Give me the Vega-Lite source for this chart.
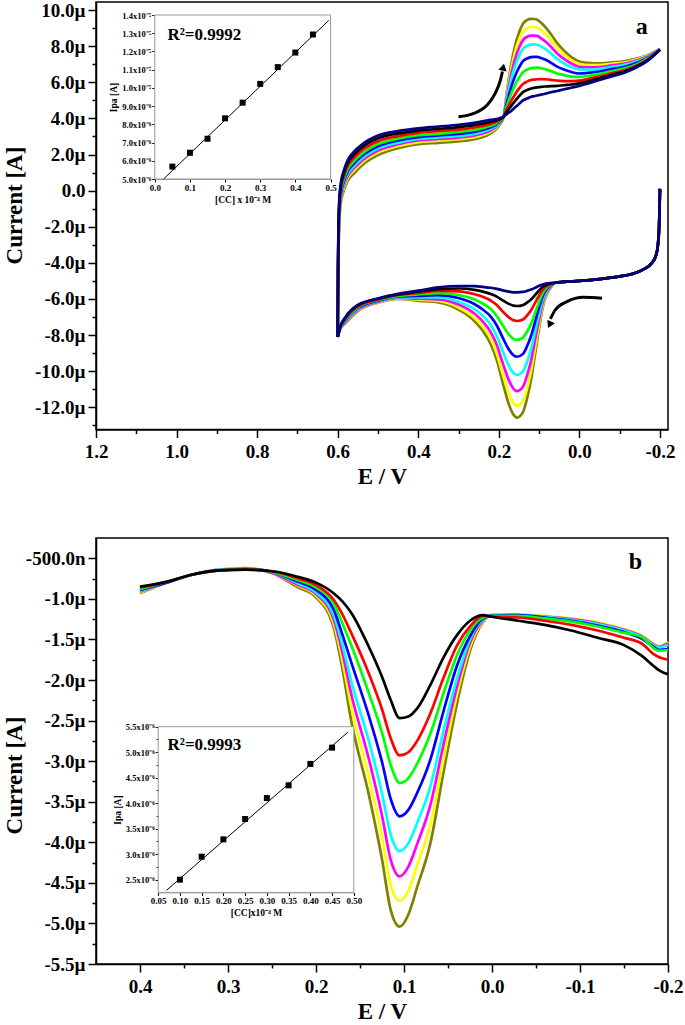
{
"$schema":"https://vega.github.io/schema/vega-lite/v6.json",
"background":"white",
"padding":{"left":2,"top":0,"right":0,"bottom":0},
"spacing":47,
"config":{
 "font":"Liberation Serif",
 "view":{"stroke":"black","strokeWidth":1.5},
 "axis":{"grid":false,"domainColor":"black","domainWidth":1.5,"tickColor":"black","tickWidth":1.5,"labelFont":"Liberation Serif","labelFontWeight":"bold","labelFontSize":19,"labelColor":"black","labelPadding":3,"labelOverlap":false,"labelFlush":false,"titleFont":"Liberation Serif","titleFontWeight":"bold","titleFontSize":23,"titleColor":"black","titlePadding":4,"zindex":1}
},
"datasets":{
"cvA":[
{"c":"o","b":"u","E":0.6,"I":-8.1},{"c":"o","b":"u","E":0.599,"I":-5.0},{"c":"o","b":"u","E":0.597,"I":-2.5},{"c":"o","b":"u","E":0.593,"I":-0.8},{"c":"o","b":"u","E":0.585,"I":0.0},{"c":"o","b":"u","E":0.575,"I":0.55},{"c":"o","b":"u","E":0.56,"I":0.95},{"c":"o","b":"u","E":0.54,"I":1.4},{"c":"o","b":"u","E":0.5,"I":1.97},{"c":"o","b":"u","E":0.45,"I":2.35},{"c":"o","b":"u","E":0.4,"I":2.58},{"c":"o","b":"u","E":0.35,"I":2.65},{"c":"o","b":"u","E":0.3,"I":2.73},{"c":"o","b":"u","E":0.25,"I":2.9},{"c":"o","b":"u","E":0.22,"I":3.17},{"c":"o","b":"u","E":0.2,"I":3.58},{"c":"o","b":"u","E":0.188,"I":4.1},{"c":"o","b":"u","E":0.18,"I":5.45},{"c":"o","b":"u","E":0.17,"I":6.9},{"c":"o","b":"u","E":0.16,"I":8.0},{"c":"o","b":"u","E":0.15,"I":8.75},{"c":"o","b":"u","E":0.14,"I":9.25},{"c":"o","b":"u","E":0.13,"I":9.45},{"c":"o","b":"u","E":0.12,"I":9.52},{"c":"o","b":"u","E":0.113,"I":9.51},{"c":"o","b":"u","E":0.105,"I":9.47},{"c":"o","b":"u","E":0.095,"I":9.3},{"c":"o","b":"u","E":0.085,"I":9.07},{"c":"o","b":"u","E":0.07,"I":8.65},{"c":"o","b":"u","E":0.055,"I":8.17},{"c":"o","b":"u","E":0.04,"I":7.8},{"c":"o","b":"u","E":0.02,"I":7.4},{"c":"o","b":"u","E":0,"I":7.15},{"c":"o","b":"u","E":-0.02,"I":7.08},{"c":"o","b":"u","E":-0.05,"I":7.05},{"c":"o","b":"u","E":-0.08,"I":7.11},{"c":"o","b":"u","E":-0.11,"I":7.17},{"c":"o","b":"u","E":-0.14,"I":7.3},{"c":"o","b":"u","E":-0.17,"I":7.52},{"c":"o","b":"u","E":-0.2,"I":7.85},
{"c":"o","b":"d","E":-0.2,"I":0.1},{"c":"o","b":"d","E":-0.198,"I":-2.0},{"c":"o","b":"d","E":-0.195,"I":-3.0},{"c":"o","b":"d","E":-0.19,"I":-3.6},{"c":"o","b":"d","E":-0.18,"I":-4.0},{"c":"o","b":"d","E":-0.16,"I":-4.35},{"c":"o","b":"d","E":-0.13,"I":-4.62},{"c":"o","b":"d","E":-0.1,"I":-4.75},{"c":"o","b":"d","E":-0.05,"I":-4.9},{"c":"o","b":"d","E":0,"I":-5.0},{"c":"o","b":"d","E":0.04,"I":-5.05},{"c":"o","b":"d","E":0.06,"I":-5.1},{"c":"o","b":"d","E":0.072,"I":-5.4},{"c":"o","b":"d","E":0.08,"I":-5.7},{"c":"o","b":"d","E":0.09,"I":-6.37},{"c":"o","b":"d","E":0.1,"I":-7.63},{"c":"o","b":"d","E":0.11,"I":-9.05},{"c":"o","b":"d","E":0.12,"I":-10.48},{"c":"o","b":"d","E":0.13,"I":-11.52},{"c":"o","b":"d","E":0.14,"I":-12.27},{"c":"o","b":"d","E":0.155,"I":-12.57},{"c":"o","b":"d","E":0.165,"I":-12.36},{"c":"o","b":"d","E":0.175,"I":-11.84},{"c":"o","b":"d","E":0.19,"I":-10.66},{"c":"o","b":"d","E":0.205,"I":-9.39},{"c":"o","b":"d","E":0.22,"I":-8.5},{"c":"o","b":"d","E":0.24,"I":-7.75},{"c":"o","b":"d","E":0.26,"I":-7.23},{"c":"o","b":"d","E":0.3,"I":-6.59},{"c":"o","b":"d","E":0.35,"I":-6.19},{"c":"o","b":"d","E":0.4,"I":-6.1},{"c":"o","b":"d","E":0.45,"I":-6.0},{"c":"o","b":"d","E":0.5,"I":-6.21},{"c":"o","b":"d","E":0.55,"I":-6.67},{"c":"o","b":"d","E":0.58,"I":-7.32},{"c":"o","b":"d","E":0.595,"I":-7.75},{"c":"o","b":"d","E":0.6,"I":-8.1},
{"c":"y","b":"u","E":0.6,"I":-8.1},{"c":"y","b":"u","E":0.599,"I":-4.87},{"c":"y","b":"u","E":0.597,"I":-2.31},{"c":"y","b":"u","E":0.593,"I":-0.66},{"c":"y","b":"u","E":0.585,"I":0.14},{"c":"y","b":"u","E":0.575,"I":0.7},{"c":"y","b":"u","E":0.56,"I":1.11},{"c":"y","b":"u","E":0.54,"I":1.55},{"c":"y","b":"u","E":0.5,"I":2.11},{"c":"y","b":"u","E":0.45,"I":2.47},{"c":"y","b":"u","E":0.4,"I":2.69},{"c":"y","b":"u","E":0.35,"I":2.77},{"c":"y","b":"u","E":0.3,"I":2.85},{"c":"y","b":"u","E":0.25,"I":3.02},{"c":"y","b":"u","E":0.22,"I":3.27},{"c":"y","b":"u","E":0.2,"I":3.64},{"c":"y","b":"u","E":0.188,"I":4.1},{"c":"y","b":"u","E":0.18,"I":5.33},{"c":"y","b":"u","E":0.17,"I":6.64},{"c":"y","b":"u","E":0.16,"I":7.65},{"c":"y","b":"u","E":0.15,"I":8.34},{"c":"y","b":"u","E":0.14,"I":8.81},{"c":"y","b":"u","E":0.13,"I":9.0},{"c":"y","b":"u","E":0.12,"I":9.08},{"c":"y","b":"u","E":0.113,"I":9.07},{"c":"y","b":"u","E":0.105,"I":9.04},{"c":"y","b":"u","E":0.095,"I":8.89},{"c":"y","b":"u","E":0.085,"I":8.69},{"c":"y","b":"u","E":0.07,"I":8.32},{"c":"y","b":"u","E":0.055,"I":7.9},{"c":"y","b":"u","E":0.04,"I":7.57},{"c":"y","b":"u","E":0.02,"I":7.23},{"c":"y","b":"u","E":0,"I":7.01},{"c":"y","b":"u","E":-0.02,"I":6.96},{"c":"y","b":"u","E":-0.05,"I":6.96},{"c":"y","b":"u","E":-0.08,"I":7.03},{"c":"y","b":"u","E":-0.11,"I":7.1},{"c":"y","b":"u","E":-0.14,"I":7.25},{"c":"y","b":"u","E":-0.17,"I":7.49},{"c":"y","b":"u","E":-0.2,"I":7.85},
{"c":"y","b":"d","E":-0.2,"I":0.1},{"c":"y","b":"d","E":-0.198,"I":-2.0},{"c":"y","b":"d","E":-0.195,"I":-3.0},{"c":"y","b":"d","E":-0.19,"I":-3.6},{"c":"y","b":"d","E":-0.18,"I":-4.0},{"c":"y","b":"d","E":-0.16,"I":-4.35},{"c":"y","b":"d","E":-0.13,"I":-4.62},{"c":"y","b":"d","E":-0.1,"I":-4.75},{"c":"y","b":"d","E":-0.05,"I":-4.9},{"c":"y","b":"d","E":0,"I":-5.0},{"c":"y","b":"d","E":0.04,"I":-5.05},{"c":"y","b":"d","E":0.06,"I":-5.1},{"c":"y","b":"d","E":0.072,"I":-5.37},{"c":"y","b":"d","E":0.08,"I":-5.64},{"c":"y","b":"d","E":0.09,"I":-6.25},{"c":"y","b":"d","E":0.1,"I":-7.41},{"c":"y","b":"d","E":0.11,"I":-8.7},{"c":"y","b":"d","E":0.12,"I":-10.0},{"c":"y","b":"d","E":0.13,"I":-10.95},{"c":"y","b":"d","E":0.14,"I":-11.64},{"c":"y","b":"d","E":0.155,"I":-11.91},{"c":"y","b":"d","E":0.165,"I":-11.72},{"c":"y","b":"d","E":0.175,"I":-11.24},{"c":"y","b":"d","E":0.19,"I":-10.17},{"c":"y","b":"d","E":0.205,"I":-9.02},{"c":"y","b":"d","E":0.22,"I":-8.2},{"c":"y","b":"d","E":0.24,"I":-7.52},{"c":"y","b":"d","E":0.26,"I":-7.05},{"c":"y","b":"d","E":0.3,"I":-6.47},{"c":"y","b":"d","E":0.35,"I":-6.11},{"c":"y","b":"d","E":0.4,"I":-6.04},{"c":"y","b":"d","E":0.45,"I":-5.97},{"c":"y","b":"d","E":0.5,"I":-6.19},{"c":"y","b":"d","E":0.55,"I":-6.64},{"c":"y","b":"d","E":0.58,"I":-7.29},{"c":"y","b":"d","E":0.595,"I":-7.74},{"c":"y","b":"d","E":0.6,"I":-8.1},
{"c":"m","b":"u","E":0.6,"I":-8.1},{"c":"m","b":"u","E":0.599,"I":-4.77},{"c":"m","b":"u","E":0.597,"I":-2.16},{"c":"m","b":"u","E":0.593,"I":-0.55},{"c":"m","b":"u","E":0.585,"I":0.25},{"c":"m","b":"u","E":0.575,"I":0.81},{"c":"m","b":"u","E":0.56,"I":1.23},{"c":"m","b":"u","E":0.54,"I":1.66},{"c":"m","b":"u","E":0.5,"I":2.22},{"c":"m","b":"u","E":0.45,"I":2.57},{"c":"m","b":"u","E":0.4,"I":2.78},{"c":"m","b":"u","E":0.35,"I":2.86},{"c":"m","b":"u","E":0.3,"I":2.94},{"c":"m","b":"u","E":0.25,"I":3.11},{"c":"m","b":"u","E":0.22,"I":3.34},{"c":"m","b":"u","E":0.2,"I":3.68},{"c":"m","b":"u","E":0.188,"I":4.1},{"c":"m","b":"u","E":0.18,"I":5.19},{"c":"m","b":"u","E":0.17,"I":6.36},{"c":"m","b":"u","E":0.16,"I":7.27},{"c":"m","b":"u","E":0.15,"I":7.9},{"c":"m","b":"u","E":0.14,"I":8.34},{"c":"m","b":"u","E":0.13,"I":8.52},{"c":"m","b":"u","E":0.12,"I":8.59},{"c":"m","b":"u","E":0.113,"I":8.59},{"c":"m","b":"u","E":0.105,"I":8.57},{"c":"m","b":"u","E":0.095,"I":8.44},{"c":"m","b":"u","E":0.085,"I":8.28},{"c":"m","b":"u","E":0.07,"I":7.96},{"c":"m","b":"u","E":0.055,"I":7.6},{"c":"m","b":"u","E":0.04,"I":7.33},{"c":"m","b":"u","E":0.02,"I":7.04},{"c":"m","b":"u","E":0,"I":6.86},{"c":"m","b":"u","E":-0.02,"I":6.83},{"c":"m","b":"u","E":-0.05,"I":6.85},{"c":"m","b":"u","E":-0.08,"I":6.94},{"c":"m","b":"u","E":-0.11,"I":7.03},{"c":"m","b":"u","E":-0.14,"I":7.19},{"c":"m","b":"u","E":-0.17,"I":7.45},{"c":"m","b":"u","E":-0.2,"I":7.84},
{"c":"m","b":"d","E":-0.2,"I":0.1},{"c":"m","b":"d","E":-0.198,"I":-2.0},{"c":"m","b":"d","E":-0.195,"I":-3.0},{"c":"m","b":"d","E":-0.19,"I":-3.6},{"c":"m","b":"d","E":-0.18,"I":-4.0},{"c":"m","b":"d","E":-0.16,"I":-4.35},{"c":"m","b":"d","E":-0.13,"I":-4.62},{"c":"m","b":"d","E":-0.1,"I":-4.75},{"c":"m","b":"d","E":-0.05,"I":-4.9},{"c":"m","b":"d","E":0,"I":-5.0},{"c":"m","b":"d","E":0.04,"I":-5.05},{"c":"m","b":"d","E":0.06,"I":-5.1},{"c":"m","b":"d","E":0.072,"I":-5.34},{"c":"m","b":"d","E":0.08,"I":-5.58},{"c":"m","b":"d","E":0.09,"I":-6.12},{"c":"m","b":"d","E":0.1,"I":-7.13},{"c":"m","b":"d","E":0.11,"I":-8.27},{"c":"m","b":"d","E":0.12,"I":-9.42},{"c":"m","b":"d","E":0.13,"I":-10.25},{"c":"m","b":"d","E":0.14,"I":-10.86},{"c":"m","b":"d","E":0.155,"I":-11.1},{"c":"m","b":"d","E":0.165,"I":-10.93},{"c":"m","b":"d","E":0.175,"I":-10.51},{"c":"m","b":"d","E":0.19,"I":-9.57},{"c":"m","b":"d","E":0.205,"I":-8.55},{"c":"m","b":"d","E":0.22,"I":-7.84},{"c":"m","b":"d","E":0.24,"I":-7.24},{"c":"m","b":"d","E":0.26,"I":-6.82},{"c":"m","b":"d","E":0.3,"I":-6.31},{"c":"m","b":"d","E":0.35,"I":-6.02},{"c":"m","b":"d","E":0.4,"I":-5.98},{"c":"m","b":"d","E":0.45,"I":-5.94},{"c":"m","b":"d","E":0.5,"I":-6.16},{"c":"m","b":"d","E":0.55,"I":-6.6},{"c":"m","b":"d","E":0.58,"I":-7.25},{"c":"m","b":"d","E":0.595,"I":-7.72},{"c":"m","b":"d","E":0.6,"I":-8.1},
{"c":"c","b":"u","E":0.6,"I":-8.1},{"c":"c","b":"u","E":0.599,"I":-4.67},{"c":"c","b":"u","E":0.597,"I":-2.0},{"c":"c","b":"u","E":0.593,"I":-0.44},{"c":"c","b":"u","E":0.585,"I":0.36},{"c":"c","b":"u","E":0.575,"I":0.93},{"c":"c","b":"u","E":0.56,"I":1.35},{"c":"c","b":"u","E":0.54,"I":1.78},{"c":"c","b":"u","E":0.5,"I":2.33},{"c":"c","b":"u","E":0.45,"I":2.66},{"c":"c","b":"u","E":0.4,"I":2.87},{"c":"c","b":"u","E":0.35,"I":2.95},{"c":"c","b":"u","E":0.3,"I":3.03},{"c":"c","b":"u","E":0.25,"I":3.2},{"c":"c","b":"u","E":0.22,"I":3.42},{"c":"c","b":"u","E":0.2,"I":3.72},{"c":"c","b":"u","E":0.188,"I":4.1},{"c":"c","b":"u","E":0.18,"I":5.05},{"c":"c","b":"u","E":0.17,"I":6.08},{"c":"c","b":"u","E":0.16,"I":6.88},{"c":"c","b":"u","E":0.15,"I":7.45},{"c":"c","b":"u","E":0.14,"I":7.85},{"c":"c","b":"u","E":0.13,"I":8.02},{"c":"c","b":"u","E":0.12,"I":8.09},{"c":"c","b":"u","E":0.113,"I":8.1},{"c":"c","b":"u","E":0.105,"I":8.08},{"c":"c","b":"u","E":0.095,"I":7.99},{"c":"c","b":"u","E":0.085,"I":7.85},{"c":"c","b":"u","E":0.07,"I":7.59},{"c":"c","b":"u","E":0.055,"I":7.3},{"c":"c","b":"u","E":0.04,"I":7.07},{"c":"c","b":"u","E":0.02,"I":6.84},{"c":"c","b":"u","E":0,"I":6.71},{"c":"c","b":"u","E":-0.02,"I":6.7},{"c":"c","b":"u","E":-0.05,"I":6.75},{"c":"c","b":"u","E":-0.08,"I":6.85},{"c":"c","b":"u","E":-0.11,"I":6.96},{"c":"c","b":"u","E":-0.14,"I":7.14},{"c":"c","b":"u","E":-0.17,"I":7.41},{"c":"c","b":"u","E":-0.2,"I":7.83},
{"c":"c","b":"d","E":-0.2,"I":0.1},{"c":"c","b":"d","E":-0.198,"I":-2.0},{"c":"c","b":"d","E":-0.195,"I":-3.0},{"c":"c","b":"d","E":-0.19,"I":-3.6},{"c":"c","b":"d","E":-0.18,"I":-4.0},{"c":"c","b":"d","E":-0.16,"I":-4.35},{"c":"c","b":"d","E":-0.13,"I":-4.62},{"c":"c","b":"d","E":-0.1,"I":-4.75},{"c":"c","b":"d","E":-0.05,"I":-4.9},{"c":"c","b":"d","E":0,"I":-5.0},{"c":"c","b":"d","E":0.04,"I":-5.05},{"c":"c","b":"d","E":0.06,"I":-5.1},{"c":"c","b":"d","E":0.072,"I":-5.3},{"c":"c","b":"d","E":0.08,"I":-5.51},{"c":"c","b":"d","E":0.09,"I":-5.96},{"c":"c","b":"d","E":0.1,"I":-6.83},{"c":"c","b":"d","E":0.11,"I":-7.8},{"c":"c","b":"d","E":0.12,"I":-8.78},{"c":"c","b":"d","E":0.13,"I":-9.49},{"c":"c","b":"d","E":0.14,"I":-10.01},{"c":"c","b":"d","E":0.155,"I":-10.21},{"c":"c","b":"d","E":0.165,"I":-10.07},{"c":"c","b":"d","E":0.175,"I":-9.71},{"c":"c","b":"d","E":0.19,"I":-8.91},{"c":"c","b":"d","E":0.205,"I":-8.05},{"c":"c","b":"d","E":0.22,"I":-7.44},{"c":"c","b":"d","E":0.24,"I":-6.93},{"c":"c","b":"d","E":0.26,"I":-6.57},{"c":"c","b":"d","E":0.3,"I":-6.15},{"c":"c","b":"d","E":0.35,"I":-5.91},{"c":"c","b":"d","E":0.4,"I":-5.91},{"c":"c","b":"d","E":0.45,"I":-5.9},{"c":"c","b":"d","E":0.5,"I":-6.13},{"c":"c","b":"d","E":0.55,"I":-6.55},{"c":"c","b":"d","E":0.58,"I":-7.2},{"c":"c","b":"d","E":0.595,"I":-7.7},{"c":"c","b":"d","E":0.6,"I":-8.1},
{"c":"b","b":"u","E":0.6,"I":-8.1},{"c":"b","b":"u","E":0.599,"I":-4.55},{"c":"b","b":"u","E":0.597,"I":-1.83},{"c":"b","b":"u","E":0.593,"I":-0.31},{"c":"b","b":"u","E":0.585,"I":0.5},{"c":"b","b":"u","E":0.575,"I":1.07},{"c":"b","b":"u","E":0.56,"I":1.49},{"c":"b","b":"u","E":0.54,"I":1.92},{"c":"b","b":"u","E":0.5,"I":2.46},{"c":"b","b":"u","E":0.45,"I":2.78},{"c":"b","b":"u","E":0.4,"I":2.97},{"c":"b","b":"u","E":0.35,"I":3.06},{"c":"b","b":"u","E":0.3,"I":3.14},{"c":"b","b":"u","E":0.25,"I":3.31},{"c":"b","b":"u","E":0.22,"I":3.51},{"c":"b","b":"u","E":0.2,"I":3.77},{"c":"b","b":"u","E":0.188,"I":4.1},{"c":"b","b":"u","E":0.18,"I":4.86},{"c":"b","b":"u","E":0.17,"I":5.68},{"c":"b","b":"u","E":0.16,"I":6.33},{"c":"b","b":"u","E":0.15,"I":6.82},{"c":"b","b":"u","E":0.14,"I":7.17},{"c":"b","b":"u","E":0.13,"I":7.32},{"c":"b","b":"u","E":0.12,"I":7.4},{"c":"b","b":"u","E":0.113,"I":7.41},{"c":"b","b":"u","E":0.105,"I":7.41},{"c":"b","b":"u","E":0.095,"I":7.35},{"c":"b","b":"u","E":0.085,"I":7.26},{"c":"b","b":"u","E":0.07,"I":7.08},{"c":"b","b":"u","E":0.055,"I":6.87},{"c":"b","b":"u","E":0.04,"I":6.72},{"c":"b","b":"u","E":0.02,"I":6.57},{"c":"b","b":"u","E":0,"I":6.49},{"c":"b","b":"u","E":-0.02,"I":6.52},{"c":"b","b":"u","E":-0.05,"I":6.6},{"c":"b","b":"u","E":-0.08,"I":6.73},{"c":"b","b":"u","E":-0.11,"I":6.85},{"c":"b","b":"u","E":-0.14,"I":7.06},{"c":"b","b":"u","E":-0.17,"I":7.36},{"c":"b","b":"u","E":-0.2,"I":7.83},
{"c":"b","b":"d","E":-0.2,"I":0.1},{"c":"b","b":"d","E":-0.198,"I":-2.0},{"c":"b","b":"d","E":-0.195,"I":-3.0},{"c":"b","b":"d","E":-0.19,"I":-3.6},{"c":"b","b":"d","E":-0.18,"I":-4.0},{"c":"b","b":"d","E":-0.16,"I":-4.35},{"c":"b","b":"d","E":-0.13,"I":-4.62},{"c":"b","b":"d","E":-0.1,"I":-4.75},{"c":"b","b":"d","E":-0.05,"I":-4.9},{"c":"b","b":"d","E":0,"I":-5.0},{"c":"b","b":"d","E":0.04,"I":-5.05},{"c":"b","b":"d","E":0.06,"I":-5.1},{"c":"b","b":"d","E":0.072,"I":-5.26},{"c":"b","b":"d","E":0.08,"I":-5.43},{"c":"b","b":"d","E":0.09,"I":-5.79},{"c":"b","b":"d","E":0.1,"I":-6.48},{"c":"b","b":"d","E":0.11,"I":-7.27},{"c":"b","b":"d","E":0.12,"I":-8.05},{"c":"b","b":"d","E":0.13,"I":-8.62},{"c":"b","b":"d","E":0.14,"I":-9.04},{"c":"b","b":"d","E":0.155,"I":-9.2},{"c":"b","b":"d","E":0.165,"I":-9.09},{"c":"b","b":"d","E":0.175,"I":-8.8},{"c":"b","b":"d","E":0.19,"I":-8.16},{"c":"b","b":"d","E":0.205,"I":-7.47},{"c":"b","b":"d","E":0.22,"I":-6.98},{"c":"b","b":"d","E":0.24,"I":-6.58},{"c":"b","b":"d","E":0.26,"I":-6.29},{"c":"b","b":"d","E":0.3,"I":-5.95},{"c":"b","b":"d","E":0.35,"I":-5.79},{"c":"b","b":"d","E":0.4,"I":-5.83},{"c":"b","b":"d","E":0.45,"I":-5.86},{"c":"b","b":"d","E":0.5,"I":-6.09},{"c":"b","b":"d","E":0.55,"I":-6.5},{"c":"b","b":"d","E":0.58,"I":-7.15},{"c":"b","b":"d","E":0.595,"I":-7.68},{"c":"b","b":"d","E":0.6,"I":-8.1},
{"c":"g","b":"u","E":0.6,"I":-8.1},{"c":"g","b":"u","E":0.599,"I":-4.44},{"c":"g","b":"u","E":0.597,"I":-1.66},{"c":"g","b":"u","E":0.593,"I":-0.18},{"c":"g","b":"u","E":0.585,"I":0.62},{"c":"g","b":"u","E":0.575,"I":1.19},{"c":"g","b":"u","E":0.56,"I":1.62},{"c":"g","b":"u","E":0.54,"I":2.04},{"c":"g","b":"u","E":0.5,"I":2.58},{"c":"g","b":"u","E":0.45,"I":2.88},{"c":"g","b":"u","E":0.4,"I":3.07},{"c":"g","b":"u","E":0.35,"I":3.15},{"c":"g","b":"u","E":0.3,"I":3.25},{"c":"g","b":"u","E":0.25,"I":3.4},{"c":"g","b":"u","E":0.22,"I":3.59},{"c":"g","b":"u","E":0.2,"I":3.82},{"c":"g","b":"u","E":0.188,"I":4.1},{"c":"g","b":"u","E":0.18,"I":4.69},{"c":"g","b":"u","E":0.17,"I":5.32},{"c":"g","b":"u","E":0.16,"I":5.85},{"c":"g","b":"u","E":0.15,"I":6.25},{"c":"g","b":"u","E":0.14,"I":6.56},{"c":"g","b":"u","E":0.13,"I":6.7},{"c":"g","b":"u","E":0.12,"I":6.79},{"c":"g","b":"u","E":0.113,"I":6.8},{"c":"g","b":"u","E":0.105,"I":6.81},{"c":"g","b":"u","E":0.095,"I":6.78},{"c":"g","b":"u","E":0.085,"I":6.73},{"c":"g","b":"u","E":0.07,"I":6.62},{"c":"g","b":"u","E":0.055,"I":6.49},{"c":"g","b":"u","E":0.04,"I":6.41},{"c":"g","b":"u","E":0.02,"I":6.32},{"c":"g","b":"u","E":0,"I":6.3},{"c":"g","b":"u","E":-0.02,"I":6.35},{"c":"g","b":"u","E":-0.05,"I":6.47},{"c":"g","b":"u","E":-0.08,"I":6.62},{"c":"g","b":"u","E":-0.11,"I":6.76},{"c":"g","b":"u","E":-0.14,"I":6.98},{"c":"g","b":"u","E":-0.17,"I":7.32},{"c":"g","b":"u","E":-0.2,"I":7.82},
{"c":"g","b":"d","E":-0.2,"I":0.1},{"c":"g","b":"d","E":-0.198,"I":-2.0},{"c":"g","b":"d","E":-0.195,"I":-3.0},{"c":"g","b":"d","E":-0.19,"I":-3.6},{"c":"g","b":"d","E":-0.18,"I":-4.0},{"c":"g","b":"d","E":-0.16,"I":-4.35},{"c":"g","b":"d","E":-0.13,"I":-4.62},{"c":"g","b":"d","E":-0.1,"I":-4.75},{"c":"g","b":"d","E":-0.05,"I":-4.9},{"c":"g","b":"d","E":0,"I":-5.0},{"c":"g","b":"d","E":0.04,"I":-5.05},{"c":"g","b":"d","E":0.06,"I":-5.1},{"c":"g","b":"d","E":0.072,"I":-5.23},{"c":"g","b":"d","E":0.08,"I":-5.35},{"c":"g","b":"d","E":0.09,"I":-5.63},{"c":"g","b":"d","E":0.1,"I":-6.17},{"c":"g","b":"d","E":0.11,"I":-6.77},{"c":"g","b":"d","E":0.12,"I":-7.38},{"c":"g","b":"d","E":0.13,"I":-7.82},{"c":"g","b":"d","E":0.14,"I":-8.14},{"c":"g","b":"d","E":0.155,"I":-8.27},{"c":"g","b":"d","E":0.165,"I":-8.19},{"c":"g","b":"d","E":0.175,"I":-7.97},{"c":"g","b":"d","E":0.19,"I":-7.47},{"c":"g","b":"d","E":0.205,"I":-6.94},{"c":"g","b":"d","E":0.22,"I":-6.56},{"c":"g","b":"d","E":0.24,"I":-6.25},{"c":"g","b":"d","E":0.26,"I":-6.03},{"c":"g","b":"d","E":0.3,"I":-5.78},{"c":"g","b":"d","E":0.35,"I":-5.68},{"c":"g","b":"d","E":0.4,"I":-5.75},{"c":"g","b":"d","E":0.45,"I":-5.83},{"c":"g","b":"d","E":0.5,"I":-6.06},{"c":"g","b":"d","E":0.55,"I":-6.46},{"c":"g","b":"d","E":0.58,"I":-7.11},{"c":"g","b":"d","E":0.595,"I":-7.66},{"c":"g","b":"d","E":0.6,"I":-8.1},
{"c":"r","b":"u","E":0.6,"I":-8.1},{"c":"r","b":"u","E":0.599,"I":-4.29},{"c":"r","b":"u","E":0.597,"I":-1.44},{"c":"r","b":"u","E":0.593,"I":-0.02},{"c":"r","b":"u","E":0.585,"I":0.78},{"c":"r","b":"u","E":0.575,"I":1.37},{"c":"r","b":"u","E":0.56,"I":1.8},{"c":"r","b":"u","E":0.54,"I":2.22},{"c":"r","b":"u","E":0.5,"I":2.74},{"c":"r","b":"u","E":0.45,"I":3.02},{"c":"r","b":"u","E":0.4,"I":3.2},{"c":"r","b":"u","E":0.35,"I":3.29},{"c":"r","b":"u","E":0.3,"I":3.38},{"c":"r","b":"u","E":0.25,"I":3.54},{"c":"r","b":"u","E":0.22,"I":3.7},{"c":"r","b":"u","E":0.2,"I":3.88},{"c":"r","b":"u","E":0.188,"I":4.1},{"c":"r","b":"u","E":0.18,"I":4.51},{"c":"r","b":"u","E":0.17,"I":4.94},{"c":"r","b":"u","E":0.16,"I":5.33},{"c":"r","b":"u","E":0.15,"I":5.65},{"c":"r","b":"u","E":0.14,"I":5.91},{"c":"r","b":"u","E":0.13,"I":6.04},{"c":"r","b":"u","E":0.12,"I":6.13},{"c":"r","b":"u","E":0.113,"I":6.15},{"c":"r","b":"u","E":0.105,"I":6.17},{"c":"r","b":"u","E":0.095,"I":6.18},{"c":"r","b":"u","E":0.085,"I":6.17},{"c":"r","b":"u","E":0.07,"I":6.14},{"c":"r","b":"u","E":0.055,"I":6.09},{"c":"r","b":"u","E":0.04,"I":6.07},{"c":"r","b":"u","E":0.02,"I":6.07},{"c":"r","b":"u","E":0,"I":6.09},{"c":"r","b":"u","E":-0.02,"I":6.18},{"c":"r","b":"u","E":-0.05,"I":6.33},{"c":"r","b":"u","E":-0.08,"I":6.5},{"c":"r","b":"u","E":-0.11,"I":6.66},{"c":"r","b":"u","E":-0.14,"I":6.91},{"c":"r","b":"u","E":-0.17,"I":7.27},{"c":"r","b":"u","E":-0.2,"I":7.81},
{"c":"r","b":"d","E":-0.2,"I":0.1},{"c":"r","b":"d","E":-0.198,"I":-2.0},{"c":"r","b":"d","E":-0.195,"I":-3.0},{"c":"r","b":"d","E":-0.19,"I":-3.6},{"c":"r","b":"d","E":-0.18,"I":-4.0},{"c":"r","b":"d","E":-0.16,"I":-4.35},{"c":"r","b":"d","E":-0.13,"I":-4.62},{"c":"r","b":"d","E":-0.1,"I":-4.75},{"c":"r","b":"d","E":-0.05,"I":-4.9},{"c":"r","b":"d","E":0,"I":-5.0},{"c":"r","b":"d","E":0.04,"I":-5.05},{"c":"r","b":"d","E":0.06,"I":-5.1},{"c":"r","b":"d","E":0.072,"I":-5.18},{"c":"r","b":"d","E":0.08,"I":-5.27},{"c":"r","b":"d","E":0.09,"I":-5.46},{"c":"r","b":"d","E":0.1,"I":-5.81},{"c":"r","b":"d","E":0.11,"I":-6.22},{"c":"r","b":"d","E":0.12,"I":-6.63},{"c":"r","b":"d","E":0.13,"I":-6.92},{"c":"r","b":"d","E":0.14,"I":-7.14},{"c":"r","b":"d","E":0.155,"I":-7.22},{"c":"r","b":"d","E":0.165,"I":-7.17},{"c":"r","b":"d","E":0.175,"I":-7.02},{"c":"r","b":"d","E":0.19,"I":-6.7},{"c":"r","b":"d","E":0.205,"I":-6.34},{"c":"r","b":"d","E":0.22,"I":-6.09},{"c":"r","b":"d","E":0.24,"I":-5.88},{"c":"r","b":"d","E":0.26,"I":-5.74},{"c":"r","b":"d","E":0.3,"I":-5.58},{"c":"r","b":"d","E":0.35,"I":-5.55},{"c":"r","b":"d","E":0.4,"I":-5.67},{"c":"r","b":"d","E":0.45,"I":-5.78},{"c":"r","b":"d","E":0.5,"I":-6.02},{"c":"r","b":"d","E":0.55,"I":-6.41},{"c":"r","b":"d","E":0.58,"I":-7.06},{"c":"r","b":"d","E":0.595,"I":-7.64},{"c":"r","b":"d","E":0.6,"I":-8.1},
{"c":"k","b":"u","E":0.6,"I":-8.1},{"c":"k","b":"u","E":0.599,"I":-4.14},{"c":"k","b":"u","E":0.597,"I":-1.21},{"c":"k","b":"u","E":0.593,"I":0.15},{"c":"k","b":"u","E":0.585,"I":0.95},{"c":"k","b":"u","E":0.575,"I":1.54},{"c":"k","b":"u","E":0.56,"I":1.98},{"c":"k","b":"u","E":0.54,"I":2.39},{"c":"k","b":"u","E":0.5,"I":2.9},{"c":"k","b":"u","E":0.45,"I":3.17},{"c":"k","b":"u","E":0.4,"I":3.33},{"c":"k","b":"u","E":0.35,"I":3.42},{"c":"k","b":"u","E":0.3,"I":3.52},{"c":"k","b":"u","E":0.25,"I":3.67},{"c":"k","b":"u","E":0.22,"I":3.82},{"c":"k","b":"u","E":0.2,"I":3.94},{"c":"k","b":"u","E":0.188,"I":4.1},{"c":"k","b":"u","E":0.18,"I":4.38},{"c":"k","b":"u","E":0.17,"I":4.67},{"c":"k","b":"u","E":0.16,"I":4.96},{"c":"k","b":"u","E":0.15,"I":5.22},{"c":"k","b":"u","E":0.14,"I":5.46},{"c":"k","b":"u","E":0.13,"I":5.57},{"c":"k","b":"u","E":0.12,"I":5.66},{"c":"k","b":"u","E":0.113,"I":5.69},{"c":"k","b":"u","E":0.105,"I":5.72},{"c":"k","b":"u","E":0.095,"I":5.75},{"c":"k","b":"u","E":0.085,"I":5.77},{"c":"k","b":"u","E":0.07,"I":5.79},{"c":"k","b":"u","E":0.055,"I":5.8},{"c":"k","b":"u","E":0.04,"I":5.84},{"c":"k","b":"u","E":0.02,"I":5.88},{"c":"k","b":"u","E":0,"I":5.94},{"c":"k","b":"u","E":-0.02,"I":6.05},{"c":"k","b":"u","E":-0.05,"I":6.23},{"c":"k","b":"u","E":-0.08,"I":6.41},{"c":"k","b":"u","E":-0.11,"I":6.59},{"c":"k","b":"u","E":-0.14,"I":6.85},{"c":"k","b":"u","E":-0.17,"I":7.23},{"c":"k","b":"u","E":-0.2,"I":7.8},
{"c":"k","b":"d","E":-0.2,"I":0.1},{"c":"k","b":"d","E":-0.198,"I":-2.0},{"c":"k","b":"d","E":-0.195,"I":-3.0},{"c":"k","b":"d","E":-0.19,"I":-3.6},{"c":"k","b":"d","E":-0.18,"I":-4.0},{"c":"k","b":"d","E":-0.16,"I":-4.35},{"c":"k","b":"d","E":-0.13,"I":-4.62},{"c":"k","b":"d","E":-0.1,"I":-4.75},{"c":"k","b":"d","E":-0.05,"I":-4.9},{"c":"k","b":"d","E":0,"I":-5.0},{"c":"k","b":"d","E":0.04,"I":-5.05},{"c":"k","b":"d","E":0.06,"I":-5.1},{"c":"k","b":"d","E":0.072,"I":-5.15},{"c":"k","b":"d","E":0.08,"I":-5.2},{"c":"k","b":"d","E":0.09,"I":-5.31},{"c":"k","b":"d","E":0.1,"I":-5.53},{"c":"k","b":"d","E":0.11,"I":-5.78},{"c":"k","b":"d","E":0.12,"I":-6.03},{"c":"k","b":"d","E":0.13,"I":-6.2},{"c":"k","b":"d","E":0.14,"I":-6.34},{"c":"k","b":"d","E":0.155,"I":-6.39},{"c":"k","b":"d","E":0.165,"I":-6.36},{"c":"k","b":"d","E":0.175,"I":-6.27},{"c":"k","b":"d","E":0.19,"I":-6.08},{"c":"k","b":"d","E":0.205,"I":-5.87},{"c":"k","b":"d","E":0.22,"I":-5.72},{"c":"k","b":"d","E":0.24,"I":-5.59},{"c":"k","b":"d","E":0.26,"I":-5.5},{"c":"k","b":"d","E":0.3,"I":-5.42},{"c":"k","b":"d","E":0.35,"I":-5.45},{"c":"k","b":"d","E":0.4,"I":-5.6},{"c":"k","b":"d","E":0.45,"I":-5.75},{"c":"k","b":"d","E":0.5,"I":-5.99},{"c":"k","b":"d","E":0.55,"I":-6.36},{"c":"k","b":"d","E":0.58,"I":-7.01},{"c":"k","b":"d","E":0.595,"I":-7.63},{"c":"k","b":"d","E":0.6,"I":-8.1},
{"c":"n","b":"u","E":0.6,"I":-8.1},{"c":"n","b":"u","E":0.599,"I":-4.0},{"c":"n","b":"u","E":0.597,"I":-1.0},{"c":"n","b":"u","E":0.593,"I":0.3},{"c":"n","b":"u","E":0.585,"I":1.1},{"c":"n","b":"u","E":0.575,"I":1.7},{"c":"n","b":"u","E":0.56,"I":2.15},{"c":"n","b":"u","E":0.54,"I":2.55},{"c":"n","b":"u","E":0.5,"I":3.05},{"c":"n","b":"u","E":0.45,"I":3.3},{"c":"n","b":"u","E":0.4,"I":3.45},{"c":"n","b":"u","E":0.35,"I":3.55},{"c":"n","b":"u","E":0.3,"I":3.65},{"c":"n","b":"u","E":0.25,"I":3.8},{"c":"n","b":"u","E":0.22,"I":3.92},{"c":"n","b":"u","E":0.2,"I":4.0},{"c":"n","b":"u","E":0.188,"I":4.1},{"c":"n","b":"u","E":0.18,"I":4.25},{"c":"n","b":"u","E":0.17,"I":4.4},{"c":"n","b":"u","E":0.16,"I":4.6},{"c":"n","b":"u","E":0.15,"I":4.8},{"c":"n","b":"u","E":0.14,"I":5.0},{"c":"n","b":"u","E":0.13,"I":5.1},{"c":"n","b":"u","E":0.12,"I":5.2},{"c":"n","b":"u","E":0.113,"I":5.23},{"c":"n","b":"u","E":0.105,"I":5.27},{"c":"n","b":"u","E":0.095,"I":5.32},{"c":"n","b":"u","E":0.085,"I":5.37},{"c":"n","b":"u","E":0.07,"I":5.45},{"c":"n","b":"u","E":0.055,"I":5.52},{"c":"n","b":"u","E":0.04,"I":5.6},{"c":"n","b":"u","E":0.02,"I":5.7},{"c":"n","b":"u","E":0,"I":5.8},{"c":"n","b":"u","E":-0.02,"I":5.93},{"c":"n","b":"u","E":-0.05,"I":6.13},{"c":"n","b":"u","E":-0.08,"I":6.33},{"c":"n","b":"u","E":-0.11,"I":6.52},{"c":"n","b":"u","E":-0.14,"I":6.8},{"c":"n","b":"u","E":-0.17,"I":7.2},{"c":"n","b":"u","E":-0.2,"I":7.8},
{"c":"n","b":"d","E":-0.2,"I":0.1},{"c":"n","b":"d","E":-0.198,"I":-2.0},{"c":"n","b":"d","E":-0.195,"I":-3.0},{"c":"n","b":"d","E":-0.19,"I":-3.6},{"c":"n","b":"d","E":-0.18,"I":-4.0},{"c":"n","b":"d","E":-0.16,"I":-4.35},{"c":"n","b":"d","E":-0.13,"I":-4.62},{"c":"n","b":"d","E":-0.1,"I":-4.75},{"c":"n","b":"d","E":-0.05,"I":-4.9},{"c":"n","b":"d","E":0,"I":-5.0},{"c":"n","b":"d","E":0.04,"I":-5.05},{"c":"n","b":"d","E":0.06,"I":-5.1},{"c":"n","b":"d","E":0.072,"I":-5.12},{"c":"n","b":"d","E":0.08,"I":-5.14},{"c":"n","b":"d","E":0.09,"I":-5.19},{"c":"n","b":"d","E":0.1,"I":-5.27},{"c":"n","b":"d","E":0.11,"I":-5.38},{"c":"n","b":"d","E":0.12,"I":-5.48},{"c":"n","b":"d","E":0.13,"I":-5.55},{"c":"n","b":"d","E":0.14,"I":-5.61},{"c":"n","b":"d","E":0.155,"I":-5.63},{"c":"n","b":"d","E":0.165,"I":-5.63},{"c":"n","b":"d","E":0.175,"I":-5.59},{"c":"n","b":"d","E":0.19,"I":-5.52},{"c":"n","b":"d","E":0.205,"I":-5.44},{"c":"n","b":"d","E":0.22,"I":-5.38},{"c":"n","b":"d","E":0.24,"I":-5.33},{"c":"n","b":"d","E":0.26,"I":-5.29},{"c":"n","b":"d","E":0.3,"I":-5.28},{"c":"n","b":"d","E":0.35,"I":-5.36},{"c":"n","b":"d","E":0.4,"I":-5.54},{"c":"n","b":"d","E":0.45,"I":-5.72},{"c":"n","b":"d","E":0.5,"I":-5.97},{"c":"n","b":"d","E":0.55,"I":-6.33},{"c":"n","b":"d","E":0.58,"I":-6.98},{"c":"n","b":"d","E":0.595,"I":-7.61},{"c":"n","b":"d","E":0.6,"I":-8.1}
],
"arrowsA":[
{"a":1,"E":0.3,"I":4.09},{"a":1,"E":0.262,"I":4.28},{"a":1,"E":0.229,"I":4.74},{"a":1,"E":0.209,"I":5.39},{"a":1,"E":0.196,"I":6.12},{"a":1,"E":0.191,"I":6.6},
{"a":2,"E":-0.056,"I":-5.96},{"a":2,"E":-0.01,"I":-5.91},{"a":2,"E":0.031,"I":-6.15},{"a":2,"E":0.06,"I":-6.61},{"a":2,"E":0.072,"I":-7.1}
],
"insA":[{"x":0.05,"y":5.68},{"x":0.1,"y":6.44},{"x":0.15,"y":7.21},{"x":0.2,"y":8.33},{"x":0.25,"y":9.19},{"x":0.3,"y":10.22},{"x":0.35,"y":11.14},{"x":0.4,"y":11.94},{"x":0.45,"y":12.93}],
"fitA":[{"x":0.025,"y":5.0},{"x":0.495,"y":13.7}],
"insB":[{"x":0.1,"y":2.5},{"x":0.15,"y":2.95},{"x":0.2,"y":3.29},{"x":0.25,"y":3.69},{"x":0.3,"y":4.1},{"x":0.35,"y":4.35},{"x":0.4,"y":4.77},{"x":0.45,"y":5.09}],
"fitB":[{"x":0.069,"y":2.29},{"x":0.486,"y":5.39}],
"cvB":[
{"c":"o","E":0.4,"I":-0.93},{"c":"o","E":0.37,"I":-0.8},{"c":"o","E":0.34,"I":-0.7},{"c":"o","E":0.31,"I":-0.64},{"c":"o","E":0.28,"I":-0.62},{"c":"o","E":0.25,"I":-0.68},{"c":"o","E":0.22,"I":-0.86},{"c":"o","E":0.2,"I":-0.98},{"c":"o","E":0.18,"I":-1.35},{"c":"o","E":0.17,"I":-1.86},{"c":"o","E":0.16,"I":-2.5},{"c":"o","E":0.14,"I":-3.41},{"c":"o","E":0.125,"I":-4.21},{"c":"o","E":0.115,"I":-4.84},{"c":"o","E":0.105,"I":-5.04},{"c":"o","E":0.095,"I":-4.89},{"c":"o","E":0.085,"I":-4.55},{"c":"o","E":0.07,"I":-4.01},{"c":"o","E":0.055,"I":-3.13},{"c":"o","E":0.04,"I":-2.3},{"c":"o","E":0.025,"I":-1.64},{"c":"o","E":0.01,"I":-1.28},{"c":"o","E":0,"I":-1.2},{"c":"o","E":-0.03,"I":-1.2},{"c":"o","E":-0.06,"I":-1.22},{"c":"o","E":-0.09,"I":-1.25},{"c":"o","E":-0.12,"I":-1.3},{"c":"o","E":-0.15,"I":-1.38},{"c":"o","E":-0.17,"I":-1.46},{"c":"o","E":-0.185,"I":-1.57},{"c":"o","E":-0.19,"I":-1.59},{"c":"o","E":-0.2,"I":-1.54},
{"c":"y","E":0.4,"I":-0.92},{"c":"y","E":0.37,"I":-0.8},{"c":"y","E":0.34,"I":-0.7},{"c":"y","E":0.31,"I":-0.64},{"c":"y","E":0.28,"I":-0.62},{"c":"y","E":0.25,"I":-0.68},{"c":"y","E":0.22,"I":-0.84},{"c":"y","E":0.2,"I":-0.96},{"c":"y","E":0.18,"I":-1.3},{"c":"y","E":0.17,"I":-1.76},{"c":"y","E":0.16,"I":-2.33},{"c":"y","E":0.14,"I":-3.19},{"c":"y","E":0.125,"I":-3.93},{"c":"y","E":0.115,"I":-4.53},{"c":"y","E":0.105,"I":-4.72},{"c":"y","E":0.095,"I":-4.6},{"c":"y","E":0.085,"I":-4.28},{"c":"y","E":0.07,"I":-3.78},{"c":"y","E":0.055,"I":-2.97},{"c":"y","E":0.04,"I":-2.19},{"c":"y","E":0.025,"I":-1.59},{"c":"y","E":0.01,"I":-1.27},{"c":"y","E":0,"I":-1.2},{"c":"y","E":-0.03,"I":-1.19},{"c":"y","E":-0.06,"I":-1.21},{"c":"y","E":-0.09,"I":-1.24},{"c":"y","E":-0.12,"I":-1.29},{"c":"y","E":-0.15,"I":-1.37},{"c":"y","E":-0.17,"I":-1.45},{"c":"y","E":-0.185,"I":-1.56},{"c":"y","E":-0.19,"I":-1.59},{"c":"y","E":-0.2,"I":-1.53},
{"c":"m","E":0.4,"I":-0.91},{"c":"m","E":0.37,"I":-0.8},{"c":"m","E":0.34,"I":-0.7},{"c":"m","E":0.31,"I":-0.64},{"c":"m","E":0.28,"I":-0.63},{"c":"m","E":0.25,"I":-0.68},{"c":"m","E":0.22,"I":-0.83},{"c":"m","E":0.2,"I":-0.94},{"c":"m","E":0.18,"I":-1.25},{"c":"m","E":0.17,"I":-1.66},{"c":"m","E":0.16,"I":-2.17},{"c":"m","E":0.14,"I":-2.97},{"c":"m","E":0.125,"I":-3.67},{"c":"m","E":0.115,"I":-4.22},{"c":"m","E":0.105,"I":-4.42},{"c":"m","E":0.095,"I":-4.3},{"c":"m","E":0.085,"I":-4.02},{"c":"m","E":0.07,"I":-3.54},{"c":"m","E":0.055,"I":-2.79},{"c":"m","E":0.04,"I":-2.09},{"c":"m","E":0.025,"I":-1.54},{"c":"m","E":0.01,"I":-1.26},{"c":"m","E":0,"I":-1.2},{"c":"m","E":-0.03,"I":-1.2},{"c":"m","E":-0.06,"I":-1.22},{"c":"m","E":-0.09,"I":-1.25},{"c":"m","E":-0.12,"I":-1.3},{"c":"m","E":-0.15,"I":-1.38},{"c":"m","E":-0.17,"I":-1.46},{"c":"m","E":-0.185,"I":-1.57},{"c":"m","E":-0.19,"I":-1.59},{"c":"m","E":-0.2,"I":-1.55},
{"c":"c","E":0.4,"I":-0.9},{"c":"c","E":0.37,"I":-0.8},{"c":"c","E":0.34,"I":-0.7},{"c":"c","E":0.31,"I":-0.64},{"c":"c","E":0.28,"I":-0.63},{"c":"c","E":0.25,"I":-0.67},{"c":"c","E":0.22,"I":-0.81},{"c":"c","E":0.2,"I":-0.92},{"c":"c","E":0.18,"I":-1.2},{"c":"c","E":0.17,"I":-1.56},{"c":"c","E":0.16,"I":-2.01},{"c":"c","E":0.14,"I":-2.75},{"c":"c","E":0.125,"I":-3.4},{"c":"c","E":0.115,"I":-3.91},{"c":"c","E":0.105,"I":-4.11},{"c":"c","E":0.095,"I":-4.01},{"c":"c","E":0.085,"I":-3.76},{"c":"c","E":0.07,"I":-3.31},{"c":"c","E":0.055,"I":-2.62},{"c":"c","E":0.04,"I":-1.99},{"c":"c","E":0.025,"I":-1.5},{"c":"c","E":0.01,"I":-1.25},{"c":"c","E":0,"I":-1.21},{"c":"c","E":-0.03,"I":-1.2},{"c":"c","E":-0.06,"I":-1.22},{"c":"c","E":-0.09,"I":-1.26},{"c":"c","E":-0.12,"I":-1.31},{"c":"c","E":-0.15,"I":-1.39},{"c":"c","E":-0.17,"I":-1.47},{"c":"c","E":-0.185,"I":-1.58},{"c":"c","E":-0.19,"I":-1.6},{"c":"c","E":-0.2,"I":-1.57},
{"c":"b","E":0.4,"I":-0.89},{"c":"b","E":0.37,"I":-0.8},{"c":"b","E":0.34,"I":-0.7},{"c":"b","E":0.31,"I":-0.65},{"c":"b","E":0.28,"I":-0.63},{"c":"b","E":0.25,"I":-0.67},{"c":"b","E":0.22,"I":-0.79},{"c":"b","E":0.2,"I":-0.89},{"c":"b","E":0.18,"I":-1.13},{"c":"b","E":0.17,"I":-1.44},{"c":"b","E":0.16,"I":-1.78},{"c":"b","E":0.14,"I":-2.44},{"c":"b","E":0.125,"I":-3.01},{"c":"b","E":0.115,"I":-3.47},{"c":"b","E":0.105,"I":-3.68},{"c":"b","E":0.095,"I":-3.6},{"c":"b","E":0.085,"I":-3.39},{"c":"b","E":0.07,"I":-2.98},{"c":"b","E":0.055,"I":-2.38},{"c":"b","E":0.04,"I":-1.83},{"c":"b","E":0.025,"I":-1.46},{"c":"b","E":0.01,"I":-1.24},{"c":"b","E":0,"I":-1.21},{"c":"b","E":-0.03,"I":-1.2},{"c":"b","E":-0.06,"I":-1.23},{"c":"b","E":-0.09,"I":-1.27},{"c":"b","E":-0.12,"I":-1.33},{"c":"b","E":-0.15,"I":-1.41},{"c":"b","E":-0.17,"I":-1.49},{"c":"b","E":-0.185,"I":-1.6},{"c":"b","E":-0.19,"I":-1.63},{"c":"b","E":-0.2,"I":-1.62},
{"c":"g","E":0.4,"I":-0.88},{"c":"g","E":0.37,"I":-0.79},{"c":"g","E":0.34,"I":-0.7},{"c":"g","E":0.31,"I":-0.65},{"c":"g","E":0.28,"I":-0.63},{"c":"g","E":0.25,"I":-0.67},{"c":"g","E":0.22,"I":-0.77},{"c":"g","E":0.2,"I":-0.86},{"c":"g","E":0.18,"I":-1.06},{"c":"g","E":0.17,"I":-1.3},{"c":"g","E":0.16,"I":-1.57},{"c":"g","E":0.14,"I":-2.16},{"c":"g","E":0.125,"I":-2.65},{"c":"g","E":0.115,"I":-3.05},{"c":"g","E":0.105,"I":-3.27},{"c":"g","E":0.095,"I":-3.21},{"c":"g","E":0.085,"I":-3.03},{"c":"g","E":0.07,"I":-2.66},{"c":"g","E":0.055,"I":-2.16},{"c":"g","E":0.04,"I":-1.7},{"c":"g","E":0.025,"I":-1.39},{"c":"g","E":0.01,"I":-1.23},{"c":"g","E":0,"I":-1.21},{"c":"g","E":-0.03,"I":-1.21},{"c":"g","E":-0.06,"I":-1.24},{"c":"g","E":-0.09,"I":-1.28},{"c":"g","E":-0.12,"I":-1.34},{"c":"g","E":-0.15,"I":-1.42},{"c":"g","E":-0.17,"I":-1.47},{"c":"g","E":-0.185,"I":-1.62},{"c":"g","E":-0.19,"I":-1.64},{"c":"g","E":-0.2,"I":-1.63},
{"c":"r","E":0.4,"I":-0.86},{"c":"r","E":0.37,"I":-0.79},{"c":"r","E":0.34,"I":-0.7},{"c":"r","E":0.31,"I":-0.65},{"c":"r","E":0.28,"I":-0.64},{"c":"r","E":0.25,"I":-0.66},{"c":"r","E":0.22,"I":-0.75},{"c":"r","E":0.2,"I":-0.83},{"c":"r","E":0.18,"I":-1.01},{"c":"r","E":0.17,"I":-1.19},{"c":"r","E":0.16,"I":-1.42},{"c":"r","E":0.14,"I":-1.92},{"c":"r","E":0.125,"I":-2.36},{"c":"r","E":0.115,"I":-2.72},{"c":"r","E":0.105,"I":-2.93},{"c":"r","E":0.095,"I":-2.89},{"c":"r","E":0.085,"I":-2.75},{"c":"r","E":0.07,"I":-2.41},{"c":"r","E":0.055,"I":-1.97},{"c":"r","E":0.04,"I":-1.58},{"c":"r","E":0.025,"I":-1.34},{"c":"r","E":0.01,"I":-1.21},{"c":"r","E":0,"I":-1.22},{"c":"r","E":-0.03,"I":-1.23},{"c":"r","E":-0.06,"I":-1.27},{"c":"r","E":-0.09,"I":-1.32},{"c":"r","E":-0.12,"I":-1.39},{"c":"r","E":-0.15,"I":-1.48},{"c":"r","E":-0.17,"I":-1.55},{"c":"r","E":-0.185,"I":-1.69},{"c":"r","E":-0.19,"I":-1.72},{"c":"r","E":-0.2,"I":-1.75},
{"c":"k","E":0.4,"I":-0.85},{"c":"k","E":0.37,"I":-0.79},{"c":"k","E":0.34,"I":-0.7},{"c":"k","E":0.31,"I":-0.65},{"c":"k","E":0.28,"I":-0.64},{"c":"k","E":0.25,"I":-0.66},{"c":"k","E":0.22,"I":-0.73},{"c":"k","E":0.2,"I":-0.8},{"c":"k","E":0.18,"I":-0.93},{"c":"k","E":0.17,"I":-1.03},{"c":"k","E":0.16,"I":-1.17},{"c":"k","E":0.14,"I":-1.59},{"c":"k","E":0.125,"I":-1.96},{"c":"k","E":0.115,"I":-2.25},{"c":"k","E":0.105,"I":-2.47},{"c":"k","E":0.095,"I":-2.45},{"c":"k","E":0.085,"I":-2.35},{"c":"k","E":0.07,"I":-2.06},{"c":"k","E":0.055,"I":-1.72},{"c":"k","E":0.04,"I":-1.45},{"c":"k","E":0.025,"I":-1.27},{"c":"k","E":0.01,"I":-1.2},{"c":"k","E":0,"I":-1.22},{"c":"k","E":-0.03,"I":-1.27},{"c":"k","E":-0.06,"I":-1.32},{"c":"k","E":-0.09,"I":-1.39},{"c":"k","E":-0.12,"I":-1.48},{"c":"k","E":-0.15,"I":-1.57},{"c":"k","E":-0.17,"I":-1.7},{"c":"k","E":-0.185,"I":-1.84},{"c":"k","E":-0.19,"I":-1.88},{"c":"k","E":-0.2,"I":-1.93}
]
},
"vconcat":[
{
 "width":572,"height":427.5,
 "layer":[
   {"data":{"name":"cvA"},
    "mark":{"type":"line","strokeWidth":2.7,"interpolate":"monotone"},
    "encoding":{
     "x":{"field":"E","type":"quantitative","scale":{"domain":[1.2,-0.22],"nice":false,"zero":false},
      "axis":{"values":[1.2,1.1,1.0,0.9,0.8,0.7,0.6,0.5,0.4,0.3,0.2,0.1,0,-0.1,-0.2],"labelPadding":5,
       "labelExpr":"abs(round(datum.value*10)) % 2 == 1 ? '' : (datum.value < -0.001 ? '-' : '') + format(abs(datum.value), '.1f')",
       "tickSize":{"condition":{"test":"abs(round(datum.value*10)) % 2 == 1","value":4},"value":8},
       "title":"E / V"}},
     "y":{"field":"I","type":"quantitative","scale":{"domain":[-13.23,10.45],"nice":false,"zero":false},
      "axis":{"values":[-13,-12,-11,-10,-9,-8,-7,-6,-5,-4,-3,-2,-1,0,1,2,3,4,5,6,7,8,9,10],
       "labelExpr":"abs(datum.value) % 2 == 1 ? '' : (datum.value == 0 ? '0.0' : (datum.value < 0 ? '-' : '') + format(abs(datum.value), '.1f') + 'µ')",
       "tickSize":{"condition":{"test":"abs(datum.value) % 2 == 1","value":4},"value":8},
       "title":"Current [A]","titleAngle":-90,"titleAlign":"center","titleBaseline":"bottom","titleX":-70,"titleY":203}},
     "color":{"field":"c","type":"nominal","legend":null,
      "scale":{"domain":["o","y","m","c","b","g","r","k","n"],"range":["#808000","#ffff00","#ff00ff","#00ffff","#0000ff","#00ff00","#ff0000","#000000","#000080"]}},
     "detail":{"field":"b","type":"nominal"}
    }},
   {"data":{"name":"arrowsA"},
    "mark":{"type":"line","strokeWidth":3,"color":"black","interpolate":"monotone"},
    "encoding":{"x":{"field":"E","type":"quantitative","scale":{"domain":[1.2,-0.22],"nice":false,"zero":false},"axis":null},"y":{"field":"I","type":"quantitative","scale":{"domain":[-13.23,10.45],"nice":false,"zero":false},"axis":null},"detail":{"field":"a","type":"nominal"}}},
   {"data":{"values":[{}]},
    "mark":{"type":"point","shape":"triangle-up","angle":12,"size":70,"filled":true,"color":"black","opacity":1},
    "encoding":{"x":{"datum":0.189,"type":"quantitative","scale":{"domain":[1.2,-0.22],"nice":false,"zero":false},"axis":null},"y":{"datum":6.84,"type":"quantitative","scale":{"domain":[-13.23,10.45],"nice":false,"zero":false},"axis":null}}},
   {"data":{"values":[{}]},
    "mark":{"type":"point","shape":"triangle-down","angle":25,"size":70,"filled":true,"color":"black","opacity":1},
    "encoding":{"x":{"datum":0.074,"type":"quantitative","scale":{"domain":[1.2,-0.22],"nice":false,"zero":false},"axis":null},"y":{"datum":-7.43,"type":"quantitative","scale":{"domain":[-13.23,10.45],"nice":false,"zero":false},"axis":null}}},
   {"data":{"values":[{}]},
    "mark":{"type":"text","text":"a","font":"Liberation Serif","fontWeight":"bold","fontSize":24,"color":"black","align":"center","baseline":"middle"},
    "encoding":{"x":{"datum":-0.155,"type":"quantitative","scale":{"domain":[1.2,-0.22],"nice":false,"zero":false},"axis":null},"y":{"datum":9.08,"type":"quantitative","scale":{"domain":[-13.23,10.45],"nice":false,"zero":false},"axis":null}}},
   {"data":{"values":[{}]},
    "mark":{"type":"rect","fill":"white","stroke":"#9a9a9a","strokeWidth":1},
    "encoding":{"x":{"datum":0,"type":"quantitative","scale":{"domain":[0,0.5],"range":[58.8,234.5],"nice":false,"zero":false},"axis":null},"x2":{"datum":0.5},"y":{"datum":5,"type":"quantitative","scale":{"domain":[5,14],"range":[177,13],"nice":false,"zero":false},"axis":null},"y2":{"datum":14}}},
   {"data":{"name":"fitA"},
    "mark":{"type":"line","color":"black","strokeWidth":1},
    "encoding":{"x":{"field":"x","type":"quantitative","scale":{"domain":[0,0.5],"range":[58.8,234.5],"nice":false,"zero":false},"axis":null},"y":{"field":"y","type":"quantitative","scale":{"domain":[5,14],"range":[177,13],"nice":false,"zero":false},"axis":null}}},
   {"data":{"name":"insA"},
    "mark":{"type":"point","shape":"square","filled":true,"color":"black","size":36,"opacity":1},
    "encoding":{
     "x":{"field":"x","type":"quantitative","scale":{"domain":[0,0.5],"range":[58.8,234.5],"nice":false,"zero":false},
      "axis":{"orient":"bottom","offset":-250.5,"values":[0,0.1,0.2,0.3,0.4,0.5],"format":".1f","title":"[CC] x 10⁻⁴ M","labelFontSize":9,"titleFontSize":9.5,"tickSize":3,"tickWidth":1,"domainWidth":1,"domainColor":"#9a9a9a","labelPadding":1,"titlePadding":2}},
     "y":{"field":"y","type":"quantitative","scale":{"domain":[5,14],"range":[177,13],"nice":false,"zero":false},
      "axis":{"orient":"left","offset":-58.8,"values":[5,6,7,8,9,10,11,12,13,14],"labelExpr":"datum.value >= 10 ? format(datum.value/10, '.1f') + 'x10⁻⁵' : format(datum.value, '.1f') + 'x10⁻⁶'","title":"Ipa [A]","labelFontSize":8.5,"titleFontSize":9.5,"tickSize":3,"tickWidth":1,"domainWidth":1,"domainColor":"#9a9a9a","labelPadding":1,"titlePadding":3}}
    }},
   {"data":{"values":[{}]},
    "mark":{"type":"text","text":"R²=0.9992","font":"Liberation Serif","fontWeight":"bold","fontSize":17,"color":"black","align":"left","baseline":"middle"},
    "encoding":{"x":{"datum":0.036,"type":"quantitative","scale":{"domain":[0,0.5],"range":[58.8,234.5],"nice":false,"zero":false},"axis":null},"y":{"datum":12.9,"type":"quantitative","scale":{"domain":[5,14],"range":[177,13],"nice":false,"zero":false},"axis":null}}}
 ],
 "resolve":{"scale":{"x":"independent","y":"independent"}}
},
{
 "width":572,"height":426,
 "layer":[
   {"data":{"name":"cvB"},
    "mark":{"type":"line","strokeWidth":2.7,"interpolate":"monotone"},
    "encoding":{
     "x":{"field":"E","type":"quantitative","scale":{"domain":[0.45,-0.2],"nice":false,"zero":false},
      "axis":{"values":[0.4,0.35,0.3,0.25,0.2,0.15,0.1,0.05,0,-0.05,-0.1,-0.15,-0.2],"labelPadding":5,
       "labelExpr":"abs(round(datum.value*20)) % 2 == 1 ? '' : (datum.value < -0.001 ? '-' : '') + format(abs(datum.value), '.1f')",
       "tickSize":{"condition":{"test":"abs(round(datum.value*20)) % 2 == 1","value":4},"value":8},
       "title":"E / V"}},
     "y":{"field":"I","type":"quantitative","scale":{"domain":[-5.5,-0.25],"nice":false,"zero":false},
      "axis":{"values":[-0.5,-0.75,-1,-1.25,-1.5,-1.75,-2,-2.25,-2.5,-2.75,-3,-3.25,-3.5,-3.75,-4,-4.25,-4.5,-4.75,-5,-5.25,-5.5],
       "labelExpr":"abs(round(datum.value*4)) % 2 == 1 ? '' : (datum.value == -0.5 ? '-500.0n' : '-' + format(abs(datum.value), '.1f') + 'µ')",
       "tickSize":{"condition":{"test":"abs(round(datum.value*4)) % 2 == 1","value":4},"value":8},
       "title":"Current [A]","titleAngle":-90,"titleAlign":"center","titleBaseline":"bottom","titleX":-70,"titleY":237}},
     "color":{"field":"c","type":"nominal","legend":null,
      "scale":{"domain":["o","y","m","c","b","g","r","k"],"range":["#808000","#ffff00","#ff00ff","#00ffff","#0000ff","#00ff00","#ff0000","#000000"]}}
    }},
   {"data":{"values":[{}]},
    "mark":{"type":"text","text":"b","font":"Liberation Serif","fontWeight":"bold","fontSize":24,"color":"black","align":"center","baseline":"middle"},
    "encoding":{"x":{"datum":-0.163,"type":"quantitative","scale":{"domain":[0.45,-0.2],"nice":false,"zero":false},"axis":null},"y":{"datum":-0.55,"type":"quantitative","scale":{"domain":[-5.5,-0.25],"nice":false,"zero":false},"axis":null}}},
   {"data":{"values":[{}]},
    "mark":{"type":"rect","fill":"white","stroke":"#9a9a9a","strokeWidth":1},
    "encoding":{"x":{"datum":0.05,"type":"quantitative","scale":{"domain":[0.05,0.5],"range":[62.2,257.8],"nice":false,"zero":false},"axis":null},"x2":{"datum":0.5},"y":{"datum":2.25,"type":"quantitative","scale":{"domain":[2.25,5.5],"range":[354.4,188.7],"nice":false,"zero":false},"axis":null},"y2":{"datum":5.5}}},
   {"data":{"name":"fitB"},
    "mark":{"type":"line","color":"black","strokeWidth":1},
    "encoding":{"x":{"field":"x","type":"quantitative","scale":{"domain":[0.05,0.5],"range":[62.2,257.8],"nice":false,"zero":false},"axis":null},"y":{"field":"y","type":"quantitative","scale":{"domain":[2.25,5.5],"range":[354.4,188.7],"nice":false,"zero":false},"axis":null}}},
   {"data":{"name":"insB"},
    "mark":{"type":"point","shape":"square","filled":true,"color":"black","size":36,"opacity":1},
    "encoding":{
     "x":{"field":"x","type":"quantitative","scale":{"domain":[0.05,0.5],"range":[62.2,257.8],"nice":false,"zero":false},
      "axis":{"orient":"bottom","offset":-71.6,"values":[0.05,0.1,0.15,0.2,0.25,0.3,0.35,0.4,0.45,0.5],"format":".2f","title":"[CC]x10⁻⁴ M","labelFontSize":9,"titleFontSize":9.5,"tickSize":3,"tickWidth":1,"domainWidth":1,"domainColor":"#9a9a9a","labelPadding":1,"titlePadding":2}},
     "y":{"field":"y","type":"quantitative","scale":{"domain":[2.25,5.5],"range":[354.4,188.7],"nice":false,"zero":false},
      "axis":{"orient":"left","offset":-62.2,"values":[2.5,2.75,3,3.25,3.5,3.75,4,4.25,4.5,4.75,5,5.25,5.5],"labelExpr":"abs(round(datum.value*4)) % 2 == 1 ? '' : format(datum.value, '.1f') + 'x10⁻⁶'","title":"Ipa [A]","labelFontSize":8.5,"titleFontSize":9.5,
       "tickSize":{"condition":{"test":"abs(round(datum.value*4)) % 2 == 1","value":2},"value":3},"tickWidth":1,"domainWidth":1,"domainColor":"#9a9a9a","labelPadding":1,"titlePadding":3}}
    }},
   {"data":{"values":[{}]},
    "mark":{"type":"text","text":"R²=0.9993","font":"Liberation Serif","fontWeight":"bold","fontSize":17,"color":"black","align":"left","baseline":"middle"},
    "encoding":{"x":{"datum":0.0714,"type":"quantitative","scale":{"domain":[0.05,0.5],"range":[62.2,257.8],"nice":false,"zero":false},"axis":null},"y":{"datum":5.14,"type":"quantitative","scale":{"domain":[2.25,5.5],"range":[354.4,188.7],"nice":false,"zero":false},"axis":null}}}
 ],
 "resolve":{"scale":{"x":"independent","y":"independent"}}
}
]
}
